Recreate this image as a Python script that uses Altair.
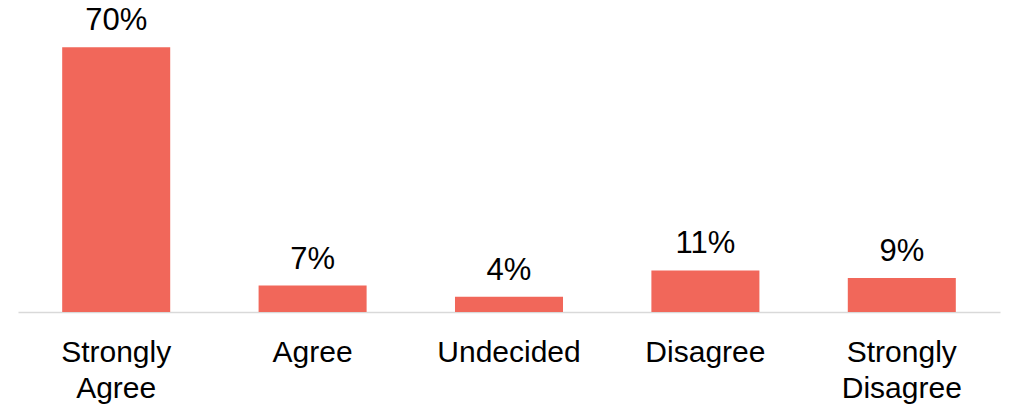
import altair as alt
import pandas as pd

categories = ["Strongly Agree", "Agree", "Undecided", "Disagree", "Strongly Disagree"]
values = [70, 7, 4, 11, 9]
value_labels = ["70%", "7%", "4%", "11%", "9%"]

df = pd.DataFrame({"category": categories, "value": values, "label": value_labels})

base = alt.Chart(df).encode(
    x=alt.X(
        "category:N",
        sort=categories,
        title=None,
        scale=alt.Scale(paddingInner=0.45, paddingOuter=0.225),
        axis=alt.Axis(
            labelExpr="split(datum.label, ' ')",
            labelFont="Liberation Sans",
            labelFontSize=30,
            labelColor="#000000",
            labelLineHeight=36,
            labelAngle=0,
            labelPadding=25,
            ticks=False,
            tickSize=0,
            domainColor="#D9D9D9",
            domainWidth=1.5,
            grid=False,
        ),
    ),
    y=alt.Y(
        "value:Q",
        scale=alt.Scale(domain=[0, 74], nice=False),
        axis=None,
    ),
)

bars = base.mark_bar(color="#F1675A")
text = base.mark_text(
    dy=-17, baseline="alphabetic", font="Liberation Sans", fontSize=31, color="#000000"
).encode(text="label:N")

chart = (
    (bars + text)
    .properties(
        width=982,
        height=280,
        background="#FFFFFF",
        autosize=alt.AutoSizeParams(type="none"),
        padding={"left": 18, "top": 32, "right": 10, "bottom": 93},
    )
    .configure_view(strokeWidth=0, stroke="transparent")
)

chart.save("out.html", embed_options={"renderer": "svg", "actions": False})
